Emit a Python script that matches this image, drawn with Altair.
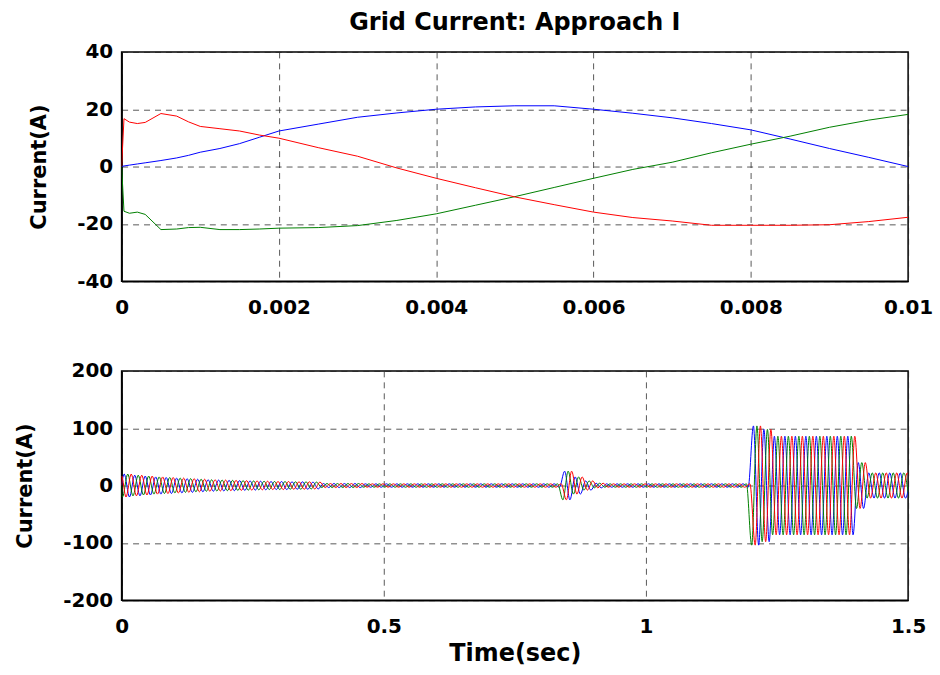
import altair as alt
import pandas as pd

# ---- first 10 ms of the three grid phase currents (A) ----
t_zoom = [0, 0.00003, 0.0001, 0.0002, 0.0003, 0.0005, 0.0007, 0.00085, 0.001,
          0.00125, 0.0015, 0.00175, 0.002, 0.0025, 0.003, 0.0035, 0.004, 0.0045,
          0.005, 0.0055, 0.006, 0.0065, 0.007, 0.0075, 0.008, 0.0085, 0.009,
          0.0095, 0.01]
ia_zoom = [0, 0.2, 0.5, 0.9, 1.3, 2.1, 3.0, 3.9, 5.0, 6.3, 8.0, 10.2, 12.4, 14.8,
           17.2, 18.7, 20.0, 20.8, 21.2, 21.2, 20.0, 18.6, 17.0, 15.0, 12.8, 9.6,
           6.3, 3.2, 0]
ib_zoom = [0, 16.7, 15.5, 15.0, 15.4, 18.5, 17.6, 15.6, 14.0, 13.2, 12.4, 11.0,
           9.9, 6.6, 3.6, -0.5, -4.1, -7.4, -10.6, -13.3, -15.9, -17.8, -19.0,
           -20.5, -20.5, -20.5, -20.3, -19.2, -17.7]
ic_zoom = [0, -15.6, -16.3, -15.9, -16.7, -22.0, -21.8, -21.3, -21.2, -22.0,
           -22.0, -21.8, -21.5, -21.3, -20.6, -18.8, -16.5, -13.5, -10.5, -7.3,
           -4.1, -1.0, 1.5, 4.8, 7.8, 10.6, 13.7, 16.2, 18.2]

# ---- full 1.5 s run: peak current of every 20 ms cycle (A) ----
cycle_peak = [20, 18, 16.5, 15, 14,
              13, 12, 11, 10, 9.5,
              9, 8.5, 8, 7.5, 7,
              7, 6.5, 6.5, 6,
              3.5, 3.5, 3.5, 3.5, 3, 3, 3, 3, 3, 3, 3, 3, 3, 3, 3, 3, 3, 3, 3,
              3, 3, 3, 3,
              25, 15, 8, 4,
              3, 3, 3, 3, 3, 3, 3, 3, 3, 3, 3, 3, 3, 3,
              104, 98,
              86, 86, 86, 86, 86, 86, 86, 86,
              40,
              22, 22, 22, 22]
CYCLE = 0.02
phase_names = ["Ia", "Ic", "Ib"]          # drawing order: blue, green, red
phase_colors = {"Ia": "#0000ff", "Ib": "#ff0000", "Ic": "#008000"}
phase_lag = {"Ia": 0.0, "Ib": -CYCLE / 3, "Ic": CYCLE / 3}
start_value = {"Ia": ia_zoom[1], "Ib": ib_zoom[1], "Ic": ic_zoom[1]}

zoom_df = pd.DataFrame({
    "t": t_zoom * 3,
    "i": ia_zoom + ib_zoom + ic_zoom,
    "phase": ["Ia"] * len(t_zoom) + ["Ib"] * len(t_zoom) + ["Ic"] * len(t_zoom),
})

# alternate positive / negative crests of each phase, one per half cycle
rows = [{"t": 0.0, "i": 0.0, "phase": p} for p in phase_names]
for p in phase_names:
    rows.append({"t": 0.00003, "i": start_value[p], "phase": p})
    k = -1
    while True:
        tp = 0.005 + phase_lag[p] + k * CYCLE / 2
        if tp > 1.51:
            break
        if tp > 0:
            amp = cycle_peak[min(int(tp / CYCLE), len(cycle_peak) - 1)]
            rows.append({"t": tp, "i": amp if k % 2 == 0 else -amp, "phase": p})
        k += 1
full_df = pd.DataFrame(rows)

FONT = "DejaVu Sans"
minus_fix = "replace(datum.label, '\u2212', '-')"


def panel(df, x_dom, x_vals, y_dom, y_vals, x_title, interp):
    layers = []
    for p in phase_names:
        layers.append(
            alt.Chart(df).transform_filter(alt.datum.phase == p)
            .mark_line(color=phase_colors[p], strokeWidth=1, clip=True,
                       interpolate=interp)
            .encode(
                x=alt.X("t:Q", scale=alt.Scale(domain=x_dom, nice=False, zero=False),
                        axis=alt.Axis(values=x_vals, format="~g", title=x_title,
                                      titleFontSize=24, titlePadding=6,
                                      labelPadding=16, labelFlush=False,
                                      labelExpr=minus_fix)),
                y=alt.Y("i:Q", scale=alt.Scale(domain=y_dom, nice=False),
                        axis=alt.Axis(values=y_vals, title="Current(A)",
                                      titleFontSize=21, titlePadding=27,
                                      labelPadding=9, labelExpr=minus_fix)),
                order="t:Q",
            )
        )
    return alt.layer(*layers)


top = panel(zoom_df, [0, 0.01], [0, 0.002, 0.004, 0.006, 0.008, 0.01],
            [-40, 40], [-40, -20, 0, 20, 40], None, "linear").properties(
    width=789, height=230,
    title=alt.TitleParams("Grid Current: Approach I", font=FONT, fontSize=24,
                          fontWeight="bold", color="black", anchor="middle",
                          offset=7),
)
bottom = panel(full_df, [0, 1.5], [0, 0.5, 1, 1.5],
               [-200, 200], [-200, -100, 0, 100, 200], "Time(sec)",
               "monotone").properties(width=789, height=230)

chart = (
    alt.vconcat(top, bottom, spacing=42)
    .properties(padding={"left": 14, "top": 9, "right": 6, "bottom": 6},
                background="white")
    .configure_view(stroke="black", strokeWidth=1.5)
    .configure_axis(
        labelFont=FONT, labelFontWeight="bold", labelFontSize=20,
        labelColor="black", titleFont=FONT, titleFontWeight="bold",
        titleColor="black", domainColor="black", domainWidth=1.5,
        ticks=False, grid=True, gridColor="#222222", gridDash=[6, 5],
        gridOpacity=0.75, gridWidth=1,
    )
)

chart.save("out.html", embed_options={"renderer": "svg", "actions": False})
